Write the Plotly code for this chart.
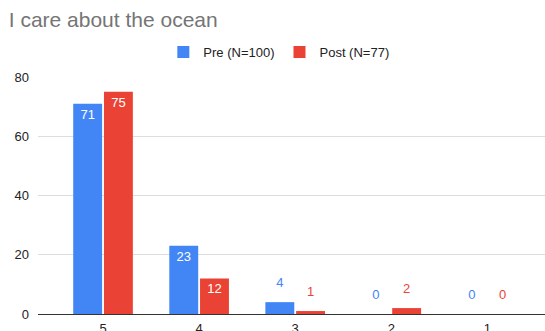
import plotly.graph_objects as go

categories = ["5", "4", "3", "2", "1"]
pre_values = [71, 23, 4, 0, 0]
post_values = [75, 12, 1, 2, 0]
series_names = ["Pre (N=100)", "Post (N=77)"]
colors = ["#4285F4", "#EA4335"]
y_ticks = [0, 20, 40, 60, 80]

FONT = "Arial, Liberation Sans, sans-serif"
INSIDE_MIN = 10

fig = go.Figure()
for name, vals, col, og in [(series_names[0], pre_values, colors[0], "a"),
                            (series_names[1], post_values, colors[1], "b")]:
    fig.add_trace(go.Bar(
        x=categories, y=vals, name=name, marker=dict(color=col, line=dict(width=0)),
        offsetgroup=og,
        text=[str(v) if v >= INSIDE_MIN else "" for v in vals],
        textposition="inside", insidetextanchor="end",
        textfont=dict(color="white", size=13, family=FONT),
        hoverinfo="skip",
    ))
for vals, col, og in [(pre_values, colors[0], "a"), (post_values, colors[1], "b")]:
    fig.add_trace(go.Scatter(
        x=categories, y=vals, mode="text+markers", offsetgroup=og,
        marker=dict(size=18, opacity=0),
        text=[str(v) if v < INSIDE_MIN else "" for v in vals],
        textposition="top center",
        textfont=dict(color=col, size=13, family=FONT),
        showlegend=False, hoverinfo="skip", cliponaxis=False,
    ))

fig.update_layout(
    width=545, height=331,
    margin=dict(l=38, r=0, t=77, b=17, autoexpand=False),
    paper_bgcolor="white", plot_bgcolor="white",
    barmode="group", scattermode="group",
    bargap=0.36, bargroupgap=0.06,
    title=dict(text="I care about the ocean", x=0.016, xanchor="left", y=0.94, yanchor="middle",
               font=dict(family=FONT, size=21, color="#757575")),
    legend=dict(orientation="h", x=0.475, xanchor="center", y=1.105, yanchor="middle",
                font=dict(family=FONT, size=13, color="#222222"), traceorder="normal"),
    xaxis=dict(type="category", range=[-0.677, 4.6], showgrid=False, showline=True,
               linecolor="#333333", linewidth=1, ticks="", ticklabelstandoff=2,
               tickfont=dict(family=FONT, size=13, color="#222222")),
    yaxis=dict(range=[0, 80], tickvals=y_ticks, showgrid=True, gridcolor="#dddddd", gridwidth=1,
               zeroline=False, showline=False, ticks="", tickfont=dict(family=FONT, size=13, color="#222222"),
               ticklabelstandoff=8),
    showlegend=True,
)
fig.write_html("out.html")
